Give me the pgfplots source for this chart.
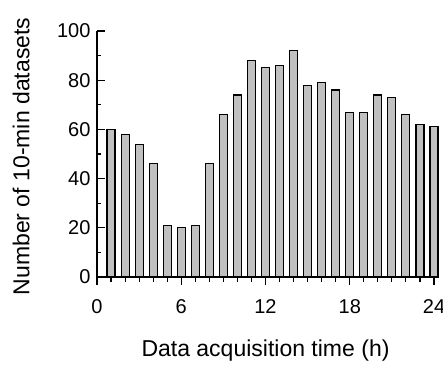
\documentclass[border=0pt]{standalone}
\usepackage{fontspec}
\setmainfont{Liberation Sans}
\usepackage{pgfplots}
\pgfplotsset{compat=1.18}
\definecolor{barfill}{RGB}{192,192,192}
\begin{document}
\begin{tikzpicture}
\useasboundingbox (-97pt,-88pt) rectangle (346pt,277pt);
\begin{axis}[
  scale only axis,
  width=337pt, height=246pt,
  xmin=0, xmax=24, ymin=0, ymax=100,
  axis lines*=left,
  axis line style={-, line width=1.4pt},
  xtick={0,6,12,18,24},
  minor x tick num=5,
  ytick={0,20,40,60,80,100},
  minor y tick num=1,
  tick align=inside,
  major tick length=8pt,
  minor tick length=4pt,
  every tick/.append style={line width=1.1pt, black},
  every major x tick/.append style={yshift=-8pt},
  every minor x tick/.append style={yshift=-5pt},
  /pgf/number format/assume math mode=true,
  ticklabel style={font=\fontsize{20}{23}\selectfont},
  xticklabel style={yshift=-19pt},
  yticklabel style={xshift=-3pt},
  xlabel={Data acquisition time (h)},
  ylabel={Number of 10-min datasets},
  label style={font=\fontsize{23}{27}\selectfont},
  xlabel style={at={(axis description cs:0.5,-0.30)}, anchor=center},
  ylabel style={at={(axis description cs:-0.225,0.49)}, anchor=center, rotate=0},
  clip=false,
]
\addplot[ybar, bar width=0.57, fill=barfill, draw=black, line width=1.1pt] coordinates {
(1,60) (2,58) (3,54) (4,46) (5,21) (6,20) (7,21) (8,46) (9,66) (10,74) (11,88) (12,85)
(13,86) (14,92) (15,78) (16,79) (17,76) (18,67) (19,67) (20,74) (21,73) (22,66) (23,62) (24,61)
};
\end{axis}
\end{tikzpicture}
\end{document}
